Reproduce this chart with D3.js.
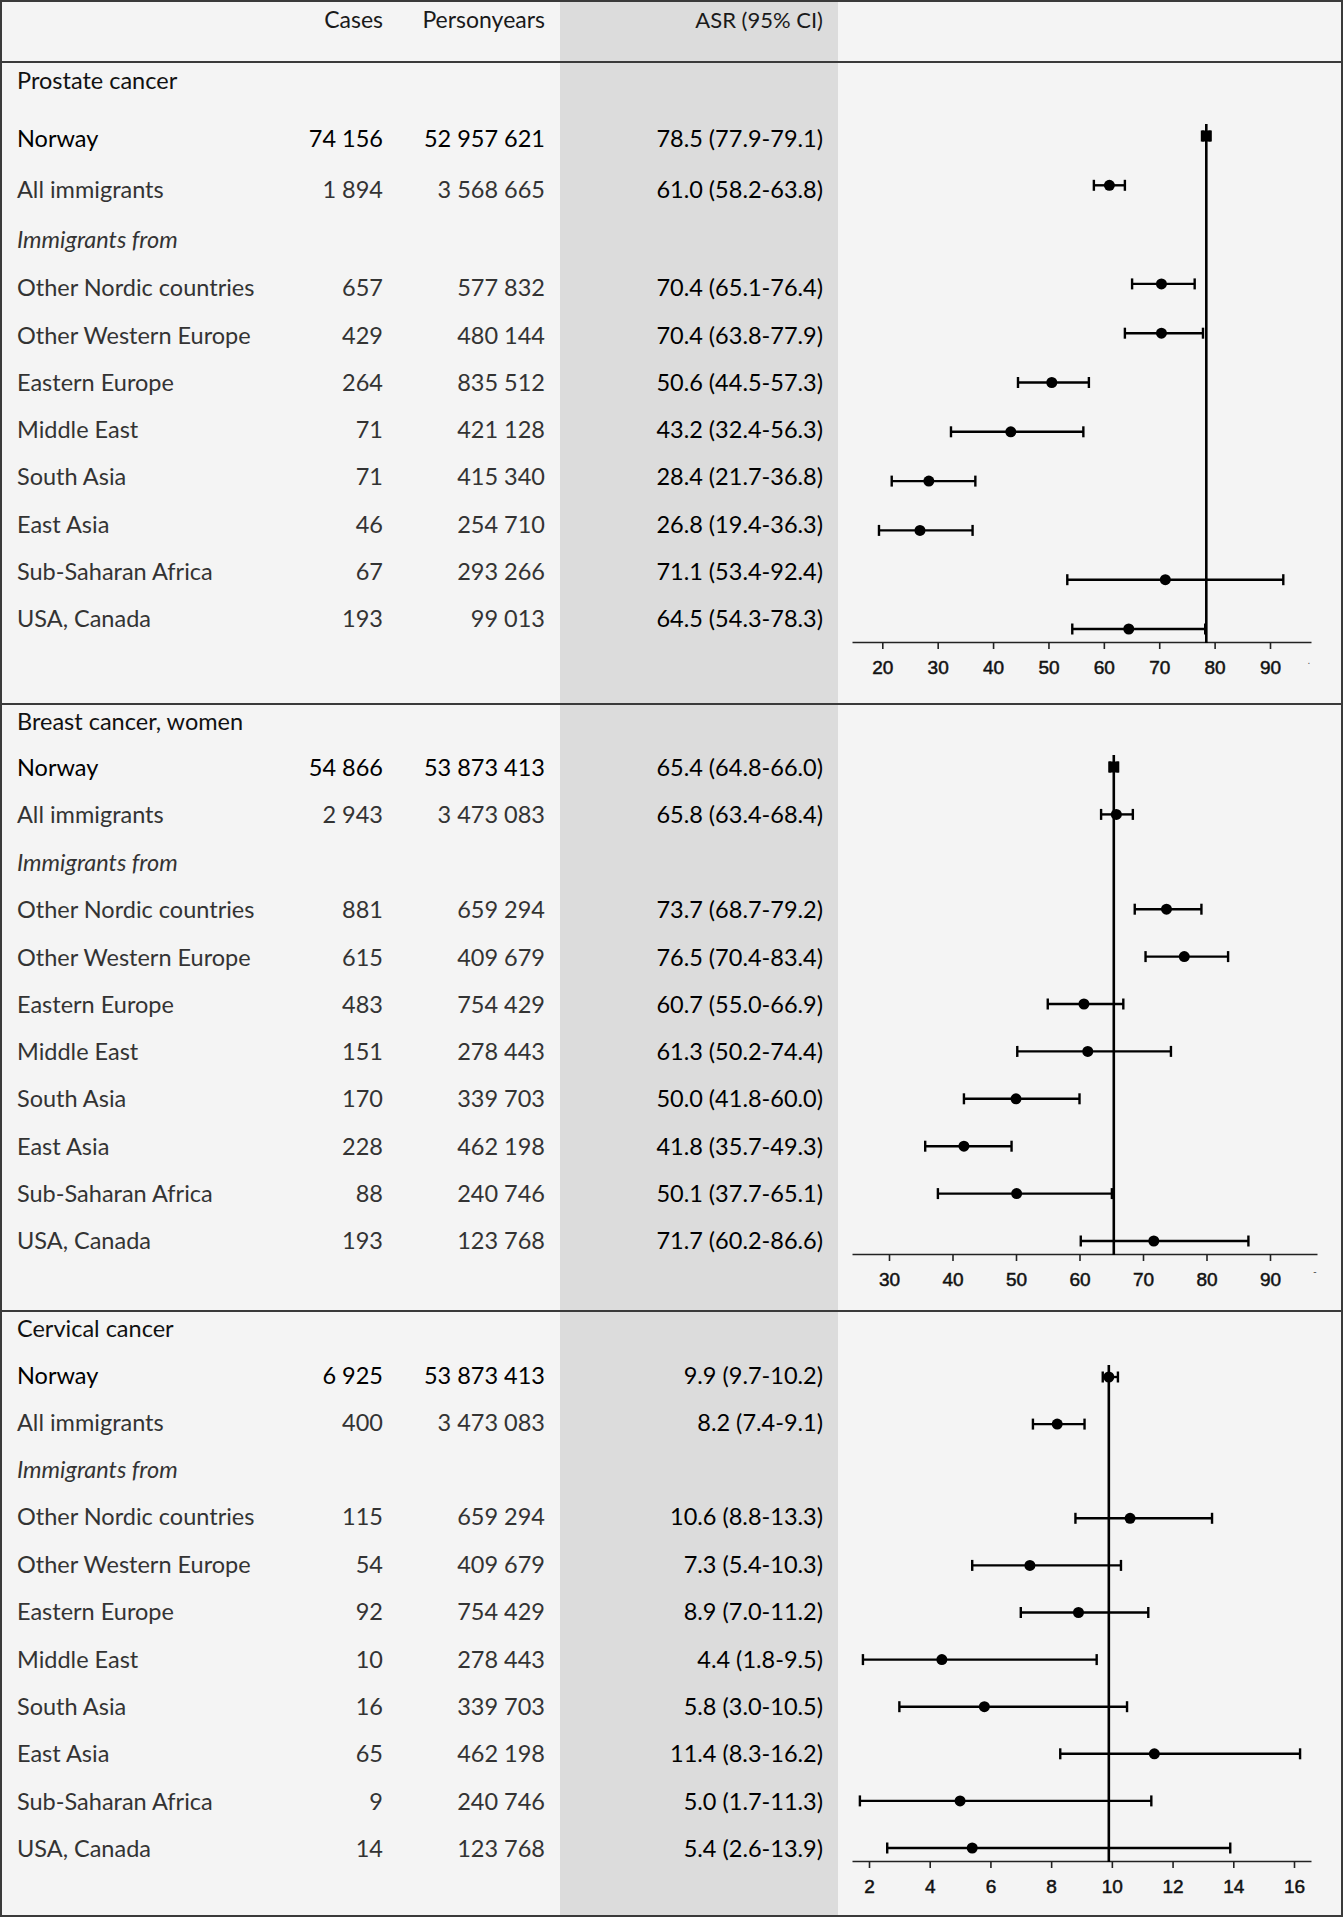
<!DOCTYPE html>
<html><head><meta charset="utf-8">
<script src="https://cdn.jsdelivr.net/npm/d3@7"></script>
<style>
html,body{margin:0;padding:0;background:#fff;}
svg{display:block;}
</style></head>
<body>
<svg id="chart" width="1343" height="1920"></svg>
<script>
// ---------- DATA ----------
const columnHeaders = ["Cases", "Personyears", "ASR (95% CI)"];
const rowLabels = ["Norway", "All immigrants", "Other Nordic countries", "Other Western Europe",
  "Eastern Europe", "Middle East", "South Asia", "East Asia", "Sub-Saharan Africa", "USA, Canada"];
const subHeading = "Immigrants from";

const prostateCases = [74156, 1894, 657, 429, 264, 71, 71, 46, 67, 193];
const prostatePY = [52957621, 3568665, 577832, 480144, 835512, 421128, 415340, 254710, 293266, 99013];
const prostateASR = [78.5, 61.0, 70.4, 70.4, 50.6, 43.2, 28.4, 26.8, 71.1, 64.5];
const prostateLo = [77.9, 58.2, 65.1, 63.8, 44.5, 32.4, 21.7, 19.4, 53.4, 54.3];
const prostateHi = [79.1, 63.8, 76.4, 77.9, 57.3, 56.3, 36.8, 36.3, 92.4, 78.3];
const prostateTicks = [20, 30, 40, 50, 60, 70, 80, 90];

const breastCases = [54866, 2943, 881, 615, 483, 151, 170, 228, 88, 193];
const breastPY = [53873413, 3473083, 659294, 409679, 754429, 278443, 339703, 462198, 240746, 123768];
const breastASR = [65.4, 65.8, 73.7, 76.5, 60.7, 61.3, 50.0, 41.8, 50.1, 71.7];
const breastLo = [64.8, 63.4, 68.7, 70.4, 55.0, 50.2, 41.8, 35.7, 37.7, 60.2];
const breastHi = [66.0, 68.4, 79.2, 83.4, 66.9, 74.4, 60.0, 49.3, 65.1, 86.6];
const breastTicks = [30, 40, 50, 60, 70, 80, 90];

const cervicalCases = [6925, 400, 115, 54, 92, 10, 16, 65, 9, 14];
const cervicalPY = [53873413, 3473083, 659294, 409679, 754429, 278443, 339703, 462198, 240746, 123768];
const cervicalASR = [9.9, 8.2, 10.6, 7.3, 8.9, 4.4, 5.8, 11.4, 5.0, 5.4];
const cervicalLo = [9.7, 7.4, 8.8, 5.4, 7.0, 1.8, 3.0, 8.3, 1.7, 2.6];
const cervicalHi = [10.2, 9.1, 13.3, 10.3, 11.2, 9.5, 10.5, 16.2, 11.3, 13.9];
const cervicalTicks = [2, 4, 6, 8, 10, 12, 14, 16];

const panelTitles = ["Prostate cancer", "Breast cancer, women", "Cervical cancer"];

// ---------- LAYOUT ----------
// textY: y of slots 0 (Norway), 1 (All immigrants), 2 (Immigrants from), 3 (first region), 10 (last region)
const layout = [
  {titleY: 81, textY: [138.5, 190, 240, 288, 619], markY0: 136, markY1: 629, axisY: 642, xr: [852, 1311], tickA: [20, 882.3], tickB: [90, 1270], extra: ".", extraX: 1309, extraY: 664},
  {titleY: 722, textY: [768, 815, 862.5, 910, 1241], markY0: 767, markY1: 1241, axisY: 1254, xr: [852, 1317], tickA: [30, 889], tickB: [90, 1270], extra: "-", extraX: 1315, extraY: 1275},
  {titleY: 1329, textY: [1376, 1423, 1470, 1517, 1849], markY0: 1377, markY1: 1848, axisY: 1861, xr: [852, 1311], tickA: [2, 869], tickB: [16, 1294], extra: null}
];
const dividers = [62, 704, 1311];
const colX = {label: 17, cases: 383, py: 545, asr: 823};
const band = [560, 838];

const panels = [
  {cases: prostateCases, py: prostatePY, asr: prostateASR, lo: prostateLo, hi: prostateHi, ticks: prostateTicks, squareRef: true},
  {cases: breastCases, py: breastPY, asr: breastASR, lo: breastLo, hi: breastHi, ticks: breastTicks, squareRef: true},
  {cases: cervicalCases, py: cervicalPY, asr: cervicalASR, lo: cervicalLo, hi: cervicalHi, ticks: cervicalTicks, squareRef: false}
];

const FONT = "Lato, 'Open Sans', sans-serif";
const FS = 23.5;
const fmtInt = d => d3.format(",")(d).replace(/,/g, " ");
const f1 = d3.format(".1f");

const svg = d3.select("#chart");
svg.append("rect").attr("x", 0).attr("y", 0).attr("width", 1343).attr("height", 1920).attr("fill", "#ffffff");
svg.append("rect").attr("x", 1).attr("y", 1).attr("width", 1341).attr("height", 1915).attr("fill", "#f4f4f4");
svg.append("rect").attr("x", band[0]).attr("y", 2).attr("width", band[1] - band[0]).attr("height", 1913).attr("fill", "#dcdcdc");

// header
const hdr = svg.append("g").attr("font-family", FONT).attr("font-size", 23).attr("fill", "#1a1a1a").attr("text-anchor", "end");
[colX.cases, colX.py, colX.asr].forEach((x, i) => {
  hdr.append("text").attr("x", x).attr("y", 20).attr("dy", "0.35em")
    .attr("font-size", i === 2 ? 22 : 23).text(columnHeaders[i]);
});

panels.forEach((p, pi) => {
  const L = layout[pi];
  const g = svg.append("g");
  g.append("text").attr("x", colX.label).attr("y", L.titleY).attr("dy", "0.35em")
    .attr("font-family", FONT).attr("font-size", FS).attr("fill", "#111").text(panelTitles[pi]);

  const slots = rowLabels.map((d, i) => i < 2 ? i : i + 1);
  const yRegion = d3.scaleLinear().domain([3, 10]).range([L.textY[3], L.textY[4]]);
  const yText = s => s < 3 ? L.textY[s] : yRegion(s);
  const yMark = d3.scaleLinear().domain([0, 10]).range([L.markY0, L.markY1]);

  g.append("text").attr("x", colX.label).attr("y", yText(2)).attr("dy", "0.35em")
    .attr("font-family", FONT).attr("font-size", FS).attr("font-style", "italic").attr("fill", "#333").text(subHeading);

  rowLabels.forEach((lab, i) => {
    const y = yText(slots[i]);
    const dark = i === 0;
    const row = g.append("g").attr("font-family", FONT).attr("font-size", FS);
    row.append("text").attr("x", colX.label).attr("y", y).attr("dy", "0.35em")
      .attr("fill", dark ? "#000" : "#333").text(lab);
    row.append("text").attr("x", colX.cases).attr("y", y).attr("dy", "0.35em").attr("text-anchor", "end")
      .attr("fill", dark ? "#000" : "#333").text(fmtInt(p.cases[i]));
    row.append("text").attr("x", colX.py).attr("y", y).attr("dy", "0.35em").attr("text-anchor", "end")
      .attr("fill", dark ? "#000" : "#333").text(fmtInt(p.py[i]));
    row.append("text").attr("x", colX.asr).attr("y", y).attr("dy", "0.35em").attr("text-anchor", "end")
      .attr("fill", "#000").text(`${f1(p.asr[i])} (${f1(p.lo[i])}-${f1(p.hi[i])})`);
  });

  // forest plot
  const slope = (L.tickB[1] - L.tickA[1]) / (L.tickB[0] - L.tickA[0]);
  const d0 = L.tickA[0] + (L.xr[0] - L.tickA[1]) / slope;
  const d1 = L.tickA[0] + (L.xr[1] - L.tickA[1]) / slope;
  const x = d3.scaleLinear().domain([d0, d1]).range(L.xr);

  const axis = d3.axisBottom(x).tickValues(p.ticks).tickSize(7).tickSizeOuter(0).tickPadding(12).tickFormat(d3.format("d"));
  const ag = g.append("g").attr("transform", `translate(0,${L.axisY})`).call(axis);
  ag.select(".domain").attr("stroke", "#222").attr("stroke-width", 1.6);
  ag.selectAll(".tick line").attr("stroke", "#222").attr("stroke-width", 1.6);
  ag.selectAll(".tick text").attr("font-family", "'Liberation Sans', Arial, sans-serif").attr("font-size", 19)
    .attr("fill", "#111").attr("stroke", "#111").attr("stroke-width", 0.5);
  if (L.extra) {
    g.append("text").attr("x", L.extraX).attr("y", L.extraY).attr("text-anchor", "middle")
      .attr("font-family", "'Liberation Sans', Arial, sans-serif").attr("font-size", 10).attr("fill", "#555").text(L.extra);
  }

  // reference line at Norway value
  g.append("line").attr("x1", x(p.asr[0])).attr("x2", x(p.asr[0]))
    .attr("y1", yMark(0) - 12).attr("y2", L.axisY + 1)
    .attr("stroke", "#000").attr("stroke-width", 2.6);

  const pts = g.append("g");
  rowLabels.forEach((lab, i) => {
    const y = yMark(slots[i]);
    const r = pts.append("g");
    r.append("line").attr("x1", x(p.lo[i])).attr("x2", x(p.hi[i])).attr("y1", y).attr("y2", y)
      .attr("stroke", "#000").attr("stroke-width", 2.4);
    [p.lo[i], p.hi[i]].forEach(v => {
      r.append("line").attr("x1", x(v)).attr("x2", x(v)).attr("y1", y - 5.5).attr("y2", y + 5.5)
        .attr("stroke", "#000").attr("stroke-width", 2.4);
    });
    if (i === 0 && p.squareRef) {
      r.append("rect").attr("x", x(p.asr[i]) - 5.5).attr("y", y - 5.5).attr("width", 11).attr("height", 11).attr("fill", "#000");
    } else {
      r.append("circle").attr("cx", x(p.asr[i])).attr("cy", y).attr("r", 5.5).attr("fill", "#000");
    }
  });
});

// dividers and border
dividers.forEach(y => {
  svg.append("line").attr("x1", 1).attr("x2", 1342).attr("y1", y).attr("y2", y).attr("stroke", "#3a3a3a").attr("stroke-width", 2);
});
svg.append("rect").attr("x", 1).attr("y", 1).attr("width", 1341).attr("height", 1915)
  .attr("fill", "none").attr("stroke", "#3a3a3a").attr("stroke-width", 2);
</script>
</body></html>
